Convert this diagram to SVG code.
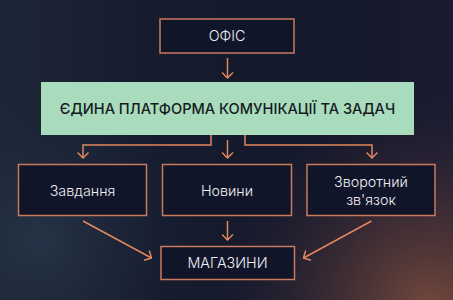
<svg xmlns="http://www.w3.org/2000/svg" width="453" height="300" viewBox="0 0 453 300">
<defs>
<linearGradient id="bg" x1="0" y1="0" x2="1" y2="0">
<stop offset="0" stop-color="#1d2638"/>
<stop offset="0.35" stop-color="#161b2e"/>
<stop offset="0.75" stop-color="#14182b"/>
<stop offset="1" stop-color="#1a1b30"/>
</linearGradient>
<radialGradient id="glow" cx="430" cy="310" r="220" gradientUnits="userSpaceOnUse">
<stop offset="0" stop-color="#7a4c3c" stop-opacity="0.95"/>
<stop offset="0.45" stop-color="#553838" stop-opacity="0.6"/>
<stop offset="1" stop-color="#2a2236" stop-opacity="0"/>
</radialGradient>
<radialGradient id="glowL" cx="40" cy="240" r="160" gradientUnits="userSpaceOnUse">
<stop offset="0" stop-color="#27384a" stop-opacity="0.8"/>
<stop offset="1" stop-color="#1d2638" stop-opacity="0"/>
</radialGradient>
<marker id="ah" viewBox="0 0 12 12" refX="11" refY="6" markerWidth="12" markerHeight="12" markerUnits="userSpaceOnUse" orient="auto">
<path d="M5.5,0.5 L11,6 L5.5,11.5" fill="none" stroke="#e0875f" stroke-width="1.5"/>
</marker>
<style>
.box{fill:#11152a;stroke:#c97a5c;stroke-width:1.5}
.lbl{font-family:Inter,"Noto Sans",sans-serif;font-size:14.3px;font-weight:300;fill:#f0f0f4;text-anchor:middle}
.title{font-family:Inter,"Noto Sans",sans-serif;font-size:14.6px;font-weight:500;fill:#151a22;text-anchor:middle}
.con{fill:none;stroke:#e0875f;stroke-width:1.5}
</style>
</defs>
<rect width="453" height="300" fill="url(#bg)"/>
<rect width="453" height="300" fill="url(#glowL)"/>
<rect width="453" height="300" fill="url(#glow)"/>

<g id="office">
<rect class="box" x="160" y="19" width="134" height="34"/>
<text class="lbl" x="227" y="41">ОФІС</text>
</g>
<g id="platform">
<rect x="41" y="82" width="373" height="53" fill="#a9dcbd"/>
<text class="title" x="227.5" y="113.5">ЄДИНА ПЛАТФОРМА КОМУНІКАЦІЇ ТА ЗАДАЧ</text>
</g>
<g id="tasks">
<rect class="box" x="18.5" y="164.5" width="128" height="51"/>
<text class="lbl" x="82.5" y="196">Завдання</text>
</g>
<g id="news">
<rect class="box" x="162.5" y="164.5" width="129" height="51"/>
<text class="lbl" x="227" y="196">Новини</text>
</g>
<g id="feedback">
<rect class="box" x="307" y="164.5" width="128" height="51"/>
<text class="lbl" x="371" y="186.5">Зворотний</text>
<text class="lbl" x="371" y="205">зв'язок</text>
</g>
<g id="shops">
<rect class="box" x="161" y="246.5" width="133.5" height="33"/>
<text class="lbl" x="227.5" y="268">МАГАЗИНИ</text>
</g>

<g id="connectors">
<path class="con" d="M227.5,58 V78" marker-end="url(#ah)"/>
<path class="con" d="M211,135 V145 H83 V158" marker-end="url(#ah)"/>
<path class="con" d="M227.5,140 V158" marker-end="url(#ah)"/>
<path class="con" d="M245,135 V145 H372 V158" marker-end="url(#ah)"/>
<path class="con" d="M83,221 L151.5,258" marker-end="url(#ah)"/>
<path class="con" d="M227.5,221 V240" marker-end="url(#ah)"/>
<path class="con" d="M371.5,221 L303.5,258" marker-end="url(#ah)"/>
</g>
</svg>
